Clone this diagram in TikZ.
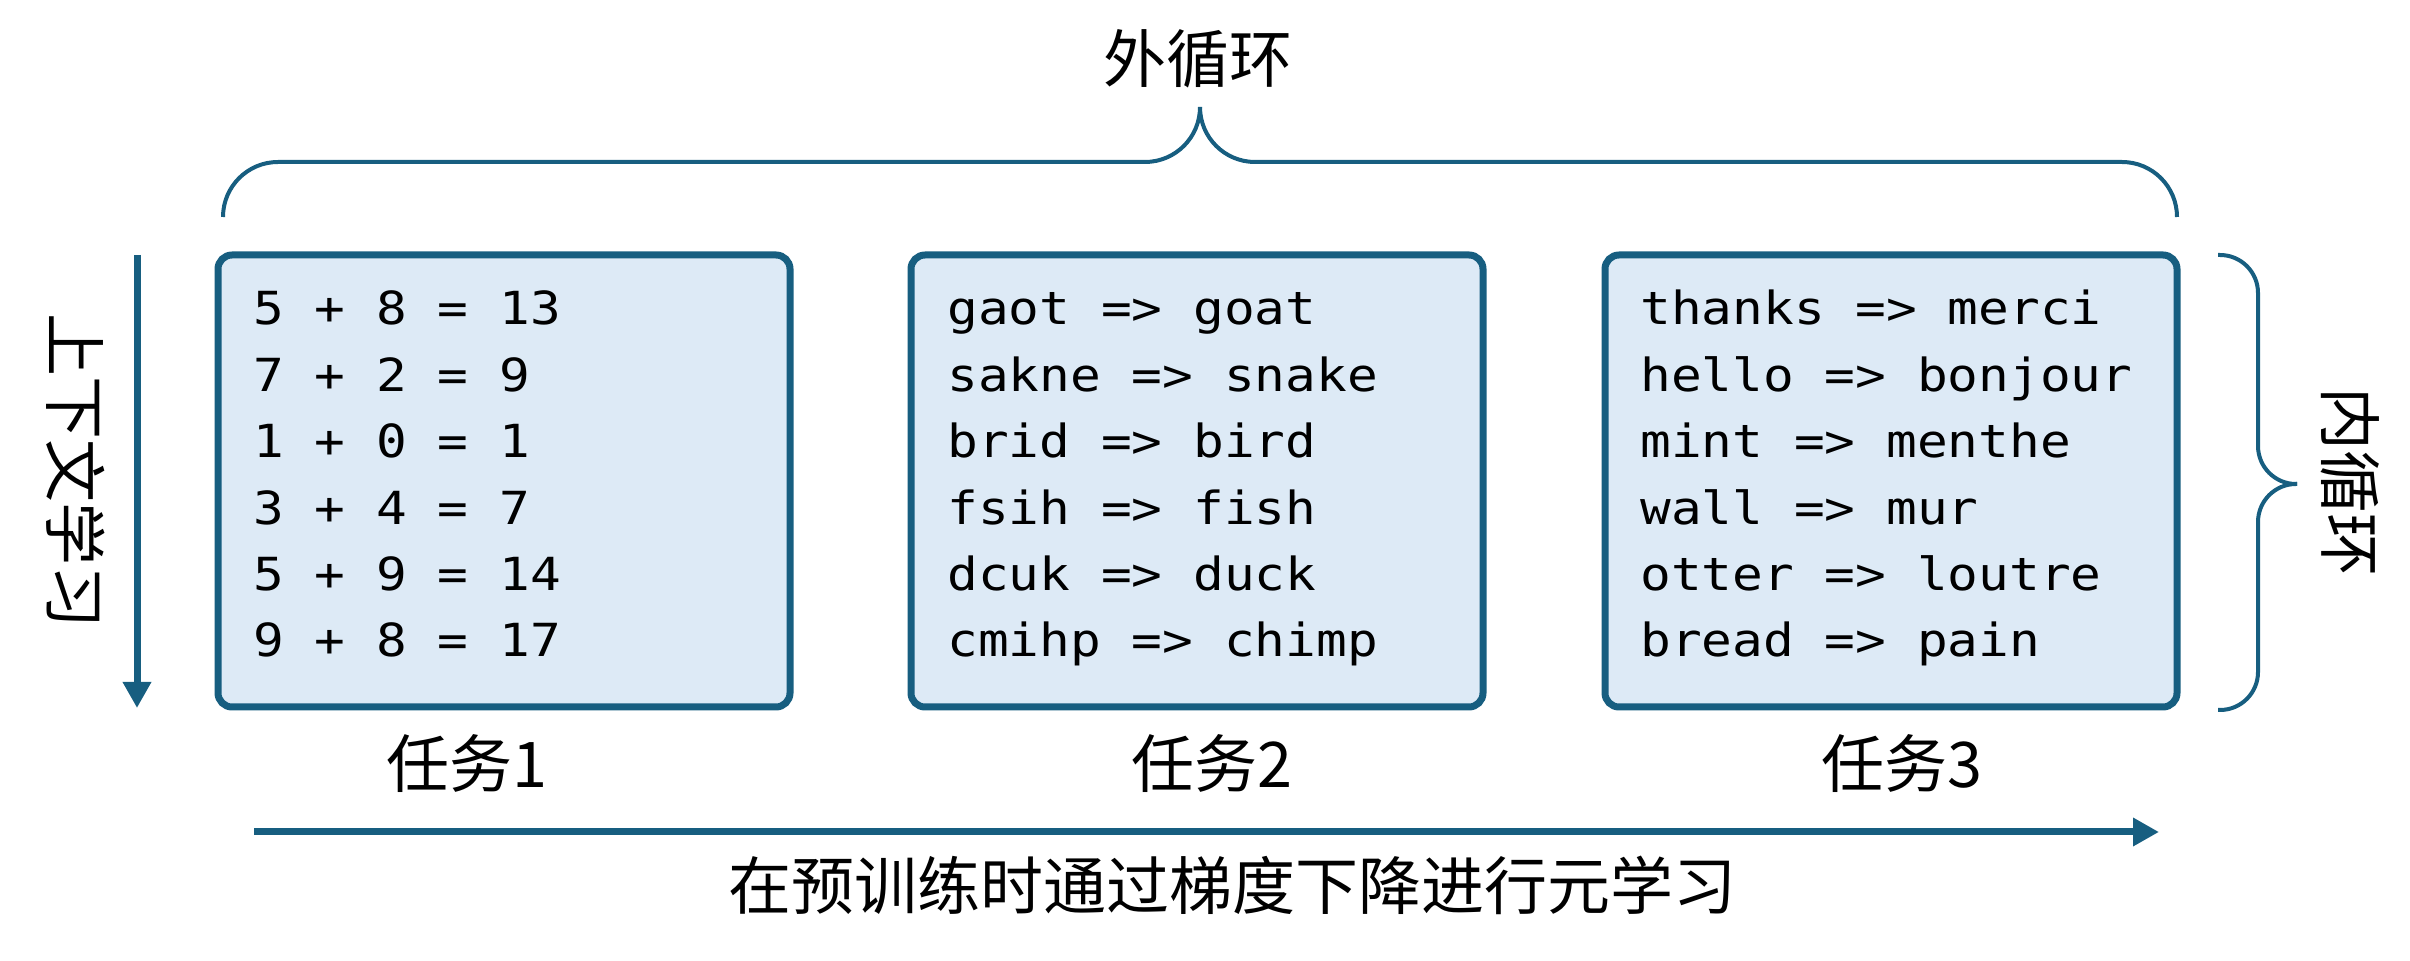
\documentclass[tikz,border=0pt]{standalone}
\usepackage{fontspec}
\usetikzlibrary{arrows.meta}
\newfontfamily\cjkfont{Noto Sans CJK SC}
\newfontfamily\codefont[FakeStretch=1.12]{DejaVu Sans Mono}
\definecolor{tealline}{HTML}{175E80}
\definecolor{boxfill}{HTML}{DDEAF6}
\begin{document}
\begin{tikzpicture}[x=0.5pt,y=-0.5pt,
  taskbox/.style={draw=tealline, fill=boxfill, line width=3.5pt, rounded corners=7pt,
    minimum width=286pt, minimum height=226pt, inner sep=0pt},
  codetext/.style={font=\codefont\fontsize{22.8pt}{27pt}\selectfont, anchor=base west, inner sep=0pt},
  cjklabel/.style={font=\cjkfont\fontsize{31.5pt}{36pt}\selectfont, inner sep=0pt},
  bracepath/.style={draw=tealline, line width=2pt},
  flowarrow/.style={draw=tealline, line width=3.5pt, -{Triangle[length=13pt,width=13.5pt]}}]
\useasboundingbox (0,0) rectangle (2410,961);

% task boxes
\node[taskbox] (box1) at (504,481) {};
\node[taskbox] (box2) at (1197,481) {};
\node[taskbox] (box3) at (1891,481) {};

% code lines
\foreach \s [count=\i] in {5 + 8 = 13, 7 + 2 = 9, 1 + 0 = 1, 3 + 4 = 7, 5 + 9 = 14, 9 + 8 = 17}
  \node[codetext] (ta\i) at (253,{325+66.4*(\i-1)}) {\s};
\foreach \s [count=\i] in {gaot => goat, sakne => snake, brid => bird, fsih => fish, dcuk => duck, cmihp => chimp}
  \node[codetext] (tb\i) at (947,{325+66.4*(\i-1)}) {\s};
\foreach \s [count=\i] in {thanks => merci, hello => bonjour, mint => menthe, wall => mur, otter => loutre, bread => pain}
  \node[codetext] (tc\i) at (1640,{325+66.4*(\i-1)}) {\s};

% outer brace
\coordinate (obl) at (223,217);
\coordinate (obr) at (2177,217);
\coordinate (obm) at (1200,162);
\coordinate (obtip) at (1200,107);
\draw[bracepath, rounded corners=27.5pt] (obl) |- (obm) -- (obtip);
\draw[bracepath, rounded corners=27.5pt] (obr) |- (obm) -- (obtip);

% inner brace
\coordinate (ibt) at (2218,255);
\coordinate (ibb) at (2218,710);
\coordinate (ibm) at (2258,484);
\coordinate (ibtip) at (2297,484);
\draw[bracepath, rounded corners=19pt] (ibt) -| (ibm) -- (ibtip);
\draw[bracepath, rounded corners=19pt] (ibb) -| (ibm) -- (ibtip);

% arrows
\coordinate (ltop) at (137,255);
\coordinate (lbot) at (137,708);
\draw[flowarrow] (ltop) -- (lbot);
\coordinate (bstart) at (254,832);
\coordinate (bend) at (2159,832);
\draw[flowarrow] (bstart) -- (bend);

% labels
\node[cjklabel] (outer) at (1198,59) {外循环};
\node[cjklabel] (task1) at (467,764) {任务1};
\node[cjklabel] (task2) at (1212,764) {任务2};
\node[cjklabel] (task3) at (1902,764) {任务3};
\node[cjklabel] (meta) at (1232,885) {在预训练时通过梯度下降进行元学习};
\node[cjklabel, rotate=-90] (ctx) at (76,471) {上下文学习};
\node[cjklabel, rotate=-90] (inner) at (2350,482) {内循环};
\end{tikzpicture}
\end{document}
